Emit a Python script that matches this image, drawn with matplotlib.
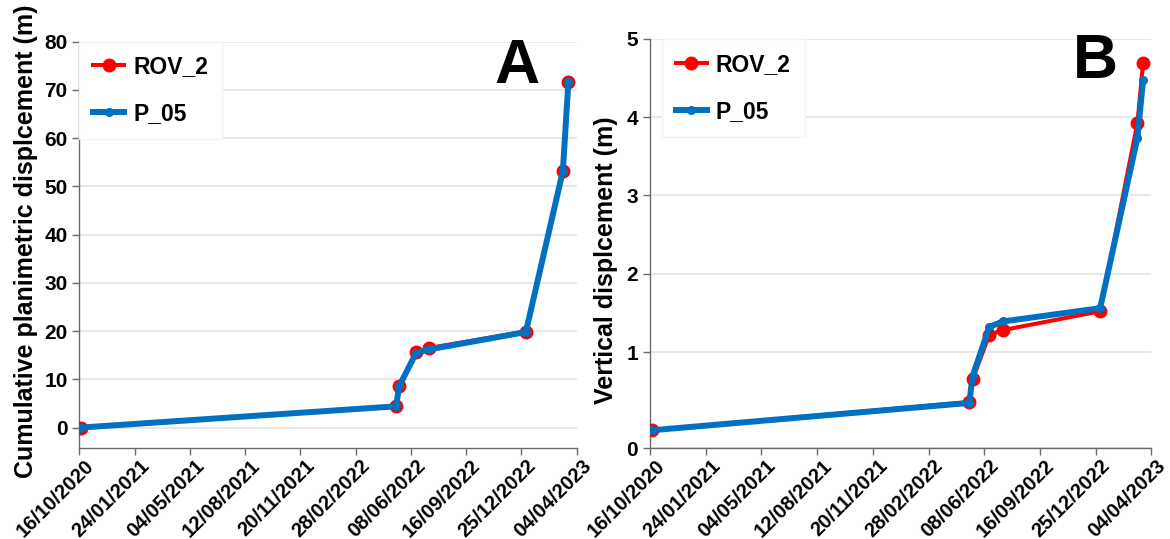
import numpy as np
import pandas as pd
import matplotlib
matplotlib.use("Agg")
import matplotlib.pyplot as plt
import matplotlib.dates as mdates
from matplotlib.transforms import ScaledTranslation

plt.rcParams["font.family"] = ["Liberation Sans", "DejaVu Sans"]
plt.rcParams["font.weight"] = "bold"

# survey dates
dates = pd.to_datetime(["2020-10-19", "2022-05-12", "2022-05-18", "2022-06-17",
                        "2022-07-11", "2023-01-02", "2023-03-10", "2023-03-20"])

# panel A - cumulative planimetric displacement (m)
plan_rov2 = [0.0, 4.4, 8.6, 15.6, 16.5, 19.9, 53.2, 71.7]
plan_p05 = [0.0, 4.4, 8.6, 15.4, 16.2, 19.8, 53.2, 71.7]

# panel B - vertical displacement (m)
vert_rov2 = [0.0, 0.36, 0.65, 1.22, 1.28, 1.52, 3.93, 4.69]
vert_p05 = [0.0, 0.35, 0.69, 1.32, 1.39, 1.56, 3.74, 4.47]

tick_dates = pd.date_range("2020-10-16", "2023-04-04", freq="100D")

RED = "#ff0000"
BLUE = "#0070c0"
SPINE = "#6b6b6b"

fig = plt.figure(figsize=(11.7, 5.39), dpi=100)
axA = fig.add_axes([0.0678, 0.1683, 0.4251, 0.7544])
axB = fig.add_axes([0.5556, 0.1683, 0.4285, 0.7594])

shift = ScaledTranslation(0.115, 0, fig.dpi_scale_trans)


def style(ax):
    for s in ["top", "right"]:
        ax.spines[s].set_visible(False)
    for s in ["left", "bottom"]:
        ax.spines[s].set_color(SPINE)
        ax.spines[s].set_linewidth(1.0)
    ax.grid(axis="y", color="#e3e3e3", linewidth=1.2)
    ax.set_axisbelow(True)
    ax.set_xlim(tick_dates[0], tick_dates[-1])
    ax.set_xticks(tick_dates)
    ax.xaxis.set_major_formatter(mdates.DateFormatter("%d/%m/%Y"))
    ax.tick_params(axis="both", colors=SPINE, length=5, width=1.0, labelcolor="black")
    ax.tick_params(axis="y", labelsize=15)
    ax.tick_params(axis="x", labelsize=14.5, pad=5.5)
    for lab in ax.get_xticklabels():
        lab.set_rotation(45)
        lab.set_ha("right")
        lab.set_va("center")
        lab.set_rotation_mode("anchor")
        lab.set_fontweight("bold")
        lab.set_transform(lab.get_transform() + shift)
    for lab in ax.get_yticklabels():
        lab.set_fontweight("bold")


def draw(ax, rov, p05, x0):
    ax.plot(dates, rov, color=RED, lw=2.9, marker="o", ms=9, label="ROV_2", zorder=3)
    ax.plot(dates, p05, color=BLUE, lw=4.3, marker="o", ms=5.5, label="P_05", zorder=4)
    leg = ax.legend(loc="upper left", bbox_to_anchor=(x0, 1.0), fontsize=16.5,
                    frameon=True, fancybox=False, framealpha=1, edgecolor="#f4f4f4",
                    handlelength=1.35, handletextpad=0.4, labelspacing=1.05,
                    borderpad=0.6, borderaxespad=0.0)
    for t in leg.get_texts():
        t.set_fontweight("bold")


draw(axA, plan_rov2, plan_p05, 0.0)
axA.set_ylim(-4.3, 80)
axA.set_yticks(np.arange(0, 81, 10))
style(axA)
axA.set_ylabel("Cumulative planimetric displcement (m)", fontsize=18, fontweight="bold")
axA.yaxis.set_label_coords(-0.083, 0.51)
axA.text(0.88, 0.938, "A", transform=axA.transAxes, fontsize=45, fontweight="bold",
         ha="center", va="center")

draw(axB, vert_rov2, vert_p05, 0.024)
axB.set_ylim(-0.23, 5)
axB.set_yticks([-0.23, 1, 2, 3, 4, 5])
axB.set_yticklabels(["0", "1", "2", "3", "4", "5"])
style(axB)
axB.set_ylabel("Vertical displcement (m)", fontsize=18, fontweight="bold")
axB.yaxis.set_label_coords(-0.064, 0.46)
axB.text(0.888, 0.944, "B", transform=axB.transAxes, fontsize=45, fontweight="bold",
         ha="center", va="center")

fig.savefig("out.png", dpi=100)
